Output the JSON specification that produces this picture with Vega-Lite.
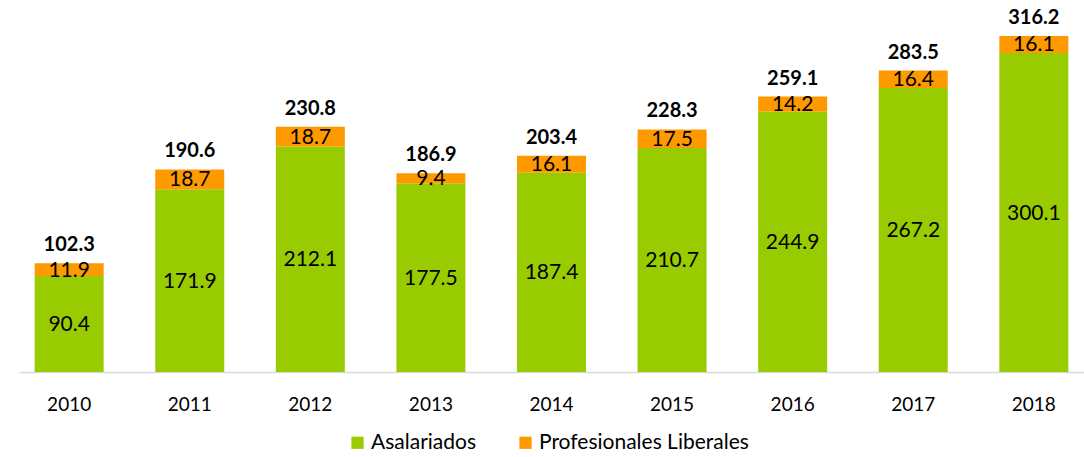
{
  "$schema": "https://vega.github.io/schema/vega-lite/v6.json",
  "autosize": {"type": "none"},
  "width": 1065,
  "height": 372,
  "padding": {"left": 19, "right": 0, "top": 0, "bottom": 85},
  "background": "white",
  "config": {"view": {"stroke": null}, "font": "Lato"},
  "datasets": {
    "main": [
      {"year": "2010", "cat": "Asalariados", "ord": 1, "value": 90.4},
      {"year": "2010", "cat": "Profesionales Liberales", "ord": 2, "value": 11.9},
      {"year": "2011", "cat": "Asalariados", "ord": 1, "value": 171.9},
      {"year": "2011", "cat": "Profesionales Liberales", "ord": 2, "value": 18.7},
      {"year": "2012", "cat": "Asalariados", "ord": 1, "value": 212.1},
      {"year": "2012", "cat": "Profesionales Liberales", "ord": 2, "value": 18.7},
      {"year": "2013", "cat": "Asalariados", "ord": 1, "value": 177.5},
      {"year": "2013", "cat": "Profesionales Liberales", "ord": 2, "value": 9.4},
      {"year": "2014", "cat": "Asalariados", "ord": 1, "value": 187.4},
      {"year": "2014", "cat": "Profesionales Liberales", "ord": 2, "value": 16.1},
      {"year": "2015", "cat": "Asalariados", "ord": 1, "value": 210.7},
      {"year": "2015", "cat": "Profesionales Liberales", "ord": 2, "value": 17.5},
      {"year": "2016", "cat": "Asalariados", "ord": 1, "value": 244.9},
      {"year": "2016", "cat": "Profesionales Liberales", "ord": 2, "value": 14.2},
      {"year": "2017", "cat": "Asalariados", "ord": 1, "value": 267.2},
      {"year": "2017", "cat": "Profesionales Liberales", "ord": 2, "value": 16.4},
      {"year": "2018", "cat": "Asalariados", "ord": 1, "value": 300.1},
      {"year": "2018", "cat": "Profesionales Liberales", "ord": 2, "value": 16.1}
    ],
    "totals": [
      {"year": "2010", "total": 102.3},
      {"year": "2011", "total": 190.6},
      {"year": "2012", "total": 230.8},
      {"year": "2013", "total": 186.9},
      {"year": "2014", "total": 203.4},
      {"year": "2015", "total": 228.3},
      {"year": "2016", "total": 259.1},
      {"year": "2017", "total": 283.5},
      {"year": "2018", "total": 316.2}
    ]
  },
  "encoding": {
    "x": {
      "field": "year", "type": "ordinal", "title": null,
      "scale": {"paddingInner": 0.428, "paddingOuter": 0.13},
      "axis": {
        "labelAngle": 0, "labelFontSize": 19, "labelColor": "#000000",
        "labelPadding": 23, "ticks": false, "domainColor": "#D9D9D9", "domainWidth": 1.5,
        "grid": false
      }
    }
  },
  "layer": [
    {
      "data": {"name": "main"},
      "mark": {"type": "bar"},
      "encoding": {
        "y": {"field": "value", "type": "quantitative", "stack": "zero",
              "scale": {"domain": [0, 350], "nice": false}, "axis": null},
        "color": {
          "field": "cat", "type": "nominal", "title": null,
          "scale": {"domain": ["Asalariados", "Profesionales Liberales"], "range": ["#99CC00", "#FF9900"]},
          "legend": {
            "orient": "none", "legendX": 328, "legendY": 432, "direction": "horizontal", "symbolType": "square",
            "symbolSize": 150, "symbolStrokeWidth": 0, "labelFontSize": 21, "labelColor": "#000000",
            "labelLimit": 400, "columnPadding": 38, "labelOffset": 3
          }
        },
        "order": {"field": "ord", "type": "quantitative"}
      }
    },
    {
      "data": {"name": "main"},
      "transform": [
        {"stack": "value", "groupby": ["year"], "sort": [{"field": "ord", "order": "ascending"}], "as": ["lo", "hi"]},
        {"fold": ["lo", "hi"], "as": ["edge", "pos"]},
        {"aggregate": [{"op": "mean", "field": "pos", "as": "mid"}], "groupby": ["year", "cat", "value"]}
      ],
      "mark": {"type": "text", "fontSize": 21, "color": "#000000", "baseline": "middle", "dy": 1},
      "encoding": {
        "y": {"field": "mid", "type": "quantitative"},
        "text": {"field": "value", "type": "quantitative", "format": ".1f"}
      }
    },
    {
      "data": {"name": "totals"},
      "mark": {"type": "text", "fontSize": 20, "fontWeight": "bold", "color": "#000000", "baseline": "bottom", "dy": -8},
      "encoding": {
        "y": {"field": "total", "type": "quantitative"},
        "text": {"field": "total", "type": "quantitative", "format": ".1f"}
      }
    }
  ]
}
